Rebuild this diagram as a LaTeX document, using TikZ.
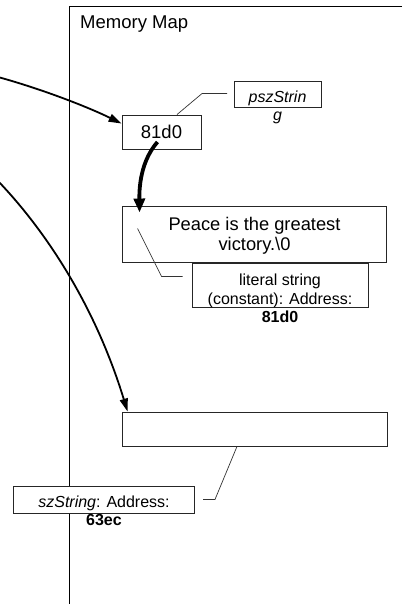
\documentclass[tikz,border=0pt]{standalone}
\usepackage{fontspec}
\setmainfont{Liberation Sans}
\usetikzlibrary{arrows.meta}
\begin{document}
\begin{tikzpicture}[x=1pt,y=-1pt,
  box/.style={draw=black!85,fill=white,line width=0.9pt,rectangle,inner sep=0pt},
  leader/.style={draw=black!80,line width=0.7pt},
  lbl/.style={inner sep=0pt,align=center,font=\fontsize{16}{18.5}\selectfont},
  ptr/.style={line width=1.8pt,-{Triangle[length=13pt,width=8pt]}},
  bigptr/.style={line width=3.8pt,-{Triangle[length=14pt,width=11pt]}}]
\useasboundingbox (0,0) rectangle (402,604);

% memory map frame
\draw[line width=0.8pt] (402,6) -- (69,6) -- (69,604);
\node[anchor=base west,inner sep=0pt,font=\fontsize{18.5}{20}\selectfont] (title) at (80,29) {Memory Map};

% pointer cell and its label
\node[box,minimum width=79pt,minimum height=34pt,font=\fontsize{18.5}{20}\selectfont] (addr) at (161.5,132) {81d0};
\node[box,minimum width=87pt,minimum height=26pt] (pszbox) at (277.5,94) {};
\node[lbl,font=\itshape\fontsize{16}{18}\selectfont,anchor=north] (psztext) at (277.5,90.5) {pszStrin\\g};
\draw[leader] ([xshift=15.5pt]addr.north) -- ++(25,-21) -- ++(25,0);

% literal string and its label
\node[box,minimum width=264pt,minimum height=56pt] (peace) at (254,234) {};
\node[lbl,font=\fontsize{18.3}{20}\selectfont,anchor=north] (peacetext) at (254.5,217) {Peace is the greatest\\victory.\textbackslash0};
\node[box,minimum width=176pt,minimum height=44pt] (litbox) at (280,285) {};
\node[lbl,anchor=north] (littext) at (280,274) {literal string\\(constant): Address:\\\textbf{81d0}};
\draw[leader] ([xshift=16pt,yshift=-23pt]peace.north west) -- ++(24,48) -- ++(21,0);

% array cell and its label
\node[box,minimum width=265pt,minimum height=34pt] (bot) at (254.5,429) {};
\draw[leader] ([xshift=-17.5pt]bot.south) -- ++(-22,53) -- ++(-12,0);
\node[box,minimum width=181pt,minimum height=27pt] (szbox) at (103.5,499.5) {};
\node[lbl,font=\fontsize{16}{18}\selectfont,anchor=north] (sztext) at (104,496) {\textit{szString}: Address:\\\textbf{63ec}};

% pointers
\coordinate (srcA) at (-2,77);
\coordinate (srcB) at (-2,181);
\draw[ptr] (srcA) .. controls (45,90) and (90,108) .. ([yshift=-9pt]addr.north west);
\draw[ptr] (srcB) .. controls (45,230) and (95,305) .. ([xshift=6pt]bot.north west);
\draw[bigptr] ([xshift=-4pt,yshift=-10pt]addr.center) .. controls (146,155) and (139,175) .. ([xshift=18pt,yshift=-7pt]peace.north west);
\end{tikzpicture}
\end{document}
